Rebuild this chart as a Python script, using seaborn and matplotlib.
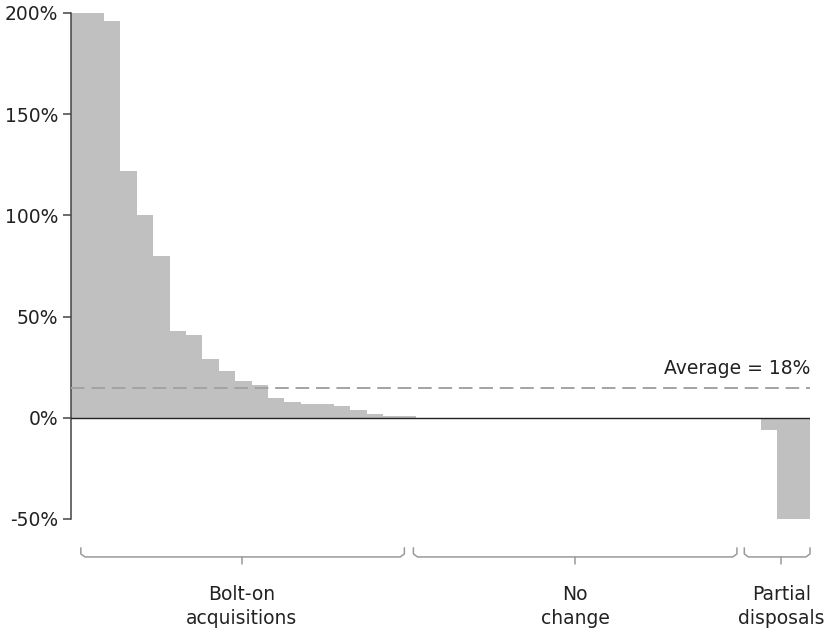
import matplotlib
matplotlib.use("Agg")
import matplotlib.pyplot as plt
import matplotlib.transforms as mtransforms
import seaborn as sns
import pandas as pd

# ---- data ----
bolt_on = [200, 200, 196, 122, 100, 80, 43, 41, 29, 23, 18, 16, 10, 8, 7, 7, 6, 4, 2, 1, 1]
no_change = [0] * 20
partial = [0, -6, -50, -50]
group_labels = ["Bolt-on\nacquisitions", "No\nchange", "Partial\ndisposals"]
average_value = 14.7
average_label = "Average = 18%"
y_ticks = [-50, 0, 50, 100, 150, 200]
y_tick_labels = ["-50%", "0%", "50%", "100%", "150%", "200%"]

values = bolt_on + no_change + partial
df = pd.DataFrame({"idx": list(range(len(values))), "value": values})

sns.set_theme(style="white")
plt.rcParams["font.family"] = ["DejaVu Sans"]

FS = 13.5
fig = plt.figure(figsize=(8.29, 6.31), dpi=100)
ax = fig.add_axes([71 / 829, 1 - 519 / 631, (810 - 71) / 829, (519 - 13) / 631])

sns.barplot(data=df, x="idx", y="value", color="#c0c0c0", width=1.0,
            saturation=1, edgecolor="none", linewidth=0, ax=ax, errorbar=None)

ax.set_xlim(-0.5, len(values) - 0.5)
ax.set_ylim(-50, 200)
ax.axhline(0, color="#222222", lw=1.0, zorder=3)
ax.axhline(average_value, color="#a3a3a3", lw=1.4, dashes=(7, 3.5), zorder=4)
ax.text(len(values) - 0.5, average_value + 5, average_label, ha="right", va="bottom",
        fontsize=FS, color="#222222")

for s in ["top", "right", "bottom"]:
    ax.spines[s].set_visible(False)
ax.spines["left"].set_color("#444444")
ax.spines["left"].set_linewidth(1.1)
ax.set_yticks(y_ticks)
ax.set_yticklabels(y_tick_labels, fontsize=FS, color="#222222")
ax.tick_params(axis="y", direction="out", length=6, width=1.1, color="#444444", left=True, pad=3)
ax.set_xticks([])
ax.set_xlabel("")
ax.set_ylabel("")

# ---- group braces ----
trans = mtransforms.blended_transform_factory(ax.transData, ax.transAxes)
n1, n2, n3 = len(bolt_on), len(no_change), len(partial)
brace_spans = [(0.1, n1 - 1.2, 9.9),
               (n1 - 0.65, n1 + n2 - 0.95, 30.2),
               (n1 + n2 - 0.5, n1 + n2 + n3 - 0.5, 42.75)]
y_top, y_mid, y_bot = -0.057, -0.075, -0.089
bc = "#9a9a9a"
for (x0, x1, xm), lab in zip(brace_spans, group_labels):
    r = 0.25
    ax.plot([x0, x0, x0 + r, x1 - r, x1, x1], [y_top, y_mid + 0.006, y_mid, y_mid, y_mid + 0.006, y_top],
            transform=trans, clip_on=False, color=bc, lw=1.1)
    ax.plot([xm, xm], [y_mid, y_bot], transform=trans, clip_on=False, color=bc, lw=1.1)
    ax.text(xm, -0.173, lab, transform=trans, ha="center", va="center", fontsize=FS,
            color="#222222", linespacing=1.3)

fig.savefig("out.png", dpi=100)
